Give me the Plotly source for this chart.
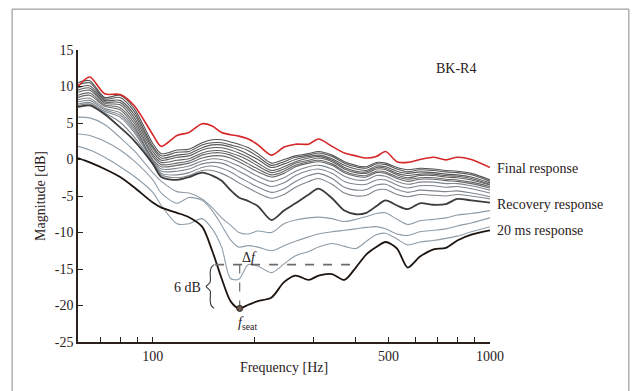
import math
import plotly.graph_objects as go

# Frequency grid (Hz)
freq = [60, 65, 72, 80, 88, 100, 106, 118, 128, 140, 150, 160, 170, 180, 192, 205, 225, 245,
        265, 290, 310, 340, 370, 400, 430, 460, 490, 530, 570, 620, 680, 740, 800, 880, 1000]

final_resp = [10.0, 11.3, 9.0, 8.9, 7.4, 3.4, 1.8, 3.3, 3.7, 4.9, 4.6, 3.7, 3.4, 3.2, 2.8, 2.0, 0.6, 1.7,
              2.1, 2.1, 2.8, 1.8, 0.9, 0.5, 0.2, 0.4, 1.1, -0.3, -0.4, 0.0, 0.3, -0.05, 0.3, 0.0, -1.1]

g1 = [10.5, 10.8, 8.5, 8.8, 7.0, 2.2, 0.8, 1.3, 1.4, 2.3, 2.7, 2.7, 2.4, 2.1, 1.6, 0.8, -0.5, 0.0,
      0.5, 0.8, 1.1, 0.6, -0.3, -0.8, -1.0, -0.4, -0.5, -1.1, -1.4, -1.2, -1.3, -1.5, -1.6, -1.9, -2.8]
g2 = [10.2, 10.5, 8.3, 8.5, 6.6, 1.8, 0.5, 1.0, 1.1, 2.0, 2.3, 2.3, 2.0, 1.7, 1.2, 0.4, -0.8, -0.3,
      0.3, 0.6, 0.9, 0.4, -0.5, -1.0, -1.2, -0.6, -0.7, -1.3, -1.7, -1.4, -1.5, -1.7, -1.8, -2.1, -3.0]
g3 = [9.8, 10.1, 8.1, 8.1, 6.2, 1.5, 0.2, 0.6, 0.8, 1.6, 2.0, 2.0, 1.7, 1.3, 0.7, 0.0, -1.1, -0.6,
      0.0, 0.4, 0.6, 0.1, -0.8, -1.3, -1.5, -0.9, -1.0, -1.6, -1.9, -1.7, -1.8, -2.0, -2.1, -2.4, -3.2]
g4 = [9.5, 9.8, 7.9, 7.8, 5.8, 1.1, -0.1, 0.3, 0.5, 1.3, 1.6, 1.6, 1.3, 0.9, 0.3, -0.5, -1.5, -1.0,
      -0.3, 0.2, 0.4, -0.1, -1.1, -1.6, -1.7, -1.1, -1.2, -1.9, -2.2, -2.0, -2.0, -2.2, -2.3, -2.6, -3.4]
g5 = [9.2, 9.5, 7.7, 7.5, 5.4, 0.7, -0.4, -0.1, 0.1, 0.9, 1.2, 1.2, 0.9, 0.5, -0.1, -0.9, -1.8, -1.3,
      -0.5, -0.1, 0.2, -0.3, -1.3, -1.8, -1.9, -1.3, -1.4, -2.1, -2.5, -2.2, -2.2, -2.4, -2.5, -2.8, -3.5]
g6 = [8.8, 9.1, 7.5, 7.1, 5.0, 0.4, -0.7, -0.5, -0.2, 0.6, 0.9, 0.9, 0.6, 0.1, -0.6, -1.3, -2.1, -1.6,
      -0.8, -0.3, -0.1, -0.6, -1.6, -2.1, -2.2, -1.6, -1.7, -2.4, -2.7, -2.5, -2.5, -2.7, -2.8, -3.1, -3.7]
g7 = [8.5, 8.8, 7.3, 6.8, 4.6, 0.0, -1.0, -0.8, -0.5, 0.2, 0.5, 0.5, 0.2, -0.3, -1.0, -1.7, -2.4, -1.9,
      -1.0, -0.5, -0.3, -0.8, -1.8, -2.3, -2.4, -1.8, -1.9, -2.6, -3.0, -2.7, -2.7, -2.9, -3.0, -3.3, -3.9]

m1 = [8.2, 8.4, 7.0, 6.4, 4.3, -0.1, -1.3, -1.2, -0.9, -0.2, 0.1, 0.0, -0.4, -0.9, -1.6, -2.3, -3.0, -2.5,
      -1.6, -1.0, -0.8, -1.3, -2.3, -2.8, -2.8, -2.2, -2.3, -3.0, -3.4, -3.1, -3.1, -3.3, -3.3, -3.6, -4.2]
m2 = [7.9, 8.1, 6.8, 6.1, 4.0, -0.2, -1.6, -1.6, -1.3, -0.6, -0.4, -0.5, -1.0, -1.6, -2.3, -3.0, -3.7, -3.2,
      -2.2, -1.5, -1.3, -1.9, -3.0, -3.4, -3.4, -2.8, -2.8, -3.5, -3.9, -3.6, -3.6, -3.8, -3.7, -4.0, -4.6]
m3 = [7.6, 7.8, 6.6, 5.8, 3.7, -0.3, -1.9, -2.1, -1.8, -1.1, -0.9, -1.2, -1.7, -2.4, -3.1, -3.8, -4.5, -4.0,
      -3.0, -2.2, -1.9, -2.6, -3.8, -4.2, -4.1, -3.5, -3.4, -4.1, -4.5, -4.2, -4.3, -4.4, -4.3, -4.6, -5.1]
m4 = [7.4, 7.6, 6.4, 5.1, 3.1, -0.4, -2.1, -2.5, -2.2, -1.5, -1.5, -1.9, -2.5, -3.2, -3.9, -4.6, -5.3, -4.8,
      -3.8, -3.0, -2.6, -3.4, -4.6, -5.0, -4.9, -4.2, -4.1, -4.8, -5.1, -4.8, -4.9, -5.0, -4.8, -5.0, -5.4]

recovery_resp = [7.2, 7.4, 6.2, 4.4, 2.6, -0.6, -2.4, -2.8, -2.4, -1.8, -2.2, -2.9, -4.2, -5.2, -5.7, -6.4, -8.3, -7.0,
                 -6.0, -4.8, -4.0, -5.3, -7.0, -7.5, -7.3, -6.4, -5.6, -6.3, -6.8, -6.0, -6.2, -6.1, -5.4, -5.6, -5.9]

l1 = [5.8, 5.7, 4.8, 3.0, 1.2, -1.8, -3.0, -4.4, -4.6, -5.4, -6.6, -8.0, -9.0, -10.0, -10.2, -9.8, -10.0, -8.8,
      -8.3, -8.0, -7.9, -8.1, -8.5, -8.2, -7.8, -7.4, -7.3, -8.2, -8.9, -8.4, -8.2, -8.0, -7.6, -7.4, -7.0]
l2 = [3.5, 3.3, 2.5, 1.3, -0.2, -2.8, -4.6, -6.0, -5.2, -5.6, -7.0, -9.0, -11.0, -12.0, -11.8, -12.0, -12.5, -11.8,
      -11.2, -10.6, -10.2, -9.9, -9.7, -9.5, -9.3, -9.2, -9.5, -10.2, -10.4, -9.9, -9.7, -9.5, -9.1, -8.7, -8.0]
l3 = [1.8, 1.3, 0.3, -1.0, -2.3, -4.5, -6.3, -8.8, -8.8, -8.1, -9.5, -12.0, -16.3, -16.4, -14.4, -14.6, -15.5, -14.3,
      -13.2, -12.6, -12.0, -11.5, -11.9, -12.2, -11.2, -10.3, -10.1, -10.9, -11.7, -11.3, -11.1, -10.8, -10.5, -9.9, -9.2]

resp_20ms = [0.2, -0.4, -1.3, -2.4, -3.8, -5.9, -6.6, -7.3, -7.9, -9.2, -12.5, -16.3, -19.4, -20.4, -19.9, -19.4, -18.9, -16.8,
             -15.9, -16.5, -15.9, -15.7, -16.5, -14.8, -13.0, -12.0, -11.3, -12.2, -14.8, -13.3, -12.3, -12.1, -11.1, -10.3, -9.7]

# Annotation values
F_SEAT = 181
MAG_MIN = -20.4
DROP_DB = 6
F_LO, F_HI = 153, 398
F_BRACE = 148

x_major = [100, 500, 1000]
x_minor = [70, 80, 90, 100, 200, 300, 400, 500, 600, 700, 800, 900, 1000]
y_tickvals = [15, 10, 5, 0, -5, -10, -15, -20, -25]
y_ticktext = ["15", "10", "5", "0", "-5", "-10", "-15", "-20", "-25"]

FONT = "Liberation Serif, Times New Roman, serif"
TXT = "#2a211c"

fig = go.Figure()

def add(y, color, width):
    fig.add_trace(go.Scatter(x=freq, y=y, mode="lines",
                             line=dict(color=color, width=width, shape="spline", smoothing=0.8),
                             hoverinfo="skip", showlegend=False))

for y in (l1, l2, l3):
    add(y, "#8e9ca7", 1.1)
for y in (m1, m2, m3, m4):
    add(y, "#7e868d", 1.1)
for y, c in ((g7, "#686868"), (g6, "#646464"), (g5, "#606060"), (g4, "#5c5c5c"),
             (g3, "#585858"), (g2, "#555555"), (g1, "#525252")):
    add(y, c, 1.1)
add(recovery_resp, "#3c3c3c", 1.8)
add(final_resp, "#d62728", 1.6)
add(resp_20ms, "#1c140f", 1.8)

# f_seat construction lines
top = MAG_MIN + DROP_DB
fig.add_trace(go.Scatter(x=[F_LO, F_HI], y=[top, top], mode="lines",
                         line=dict(color="#6b6b6b", width=1.6, dash="dash"), hoverinfo="skip", showlegend=False))
fig.add_trace(go.Scatter(x=[F_SEAT, F_SEAT], y=[top, MAG_MIN], mode="lines",
                         line=dict(color="#6b6b6b", width=1.2, dash="dash"), hoverinfo="skip", showlegend=False))
fig.add_trace(go.Scatter(x=[F_SEAT], y=[MAG_MIN], mode="markers",
                         marker=dict(size=6, color="#6b5a50", line=dict(color="#2a211c", width=1)),
                         hoverinfo="skip", showlegend=False))

# curly brace spanning the 6 dB drop (geometry in pixel offsets, 337 px per decade)
PX = 1.0 / 337.0
mid = (top + MAG_MIN) / 2
b_dx = [4, 1.2, 0, 0, -4, 0, 0, 1.2, 4]
b_y = [top, top - 0.35, top - 1.0, mid + 0.6, mid, mid - 0.6, MAG_MIN + 1.0, MAG_MIN + 0.35, MAG_MIN]
fig.add_trace(go.Scatter(x=[10 ** (math.log10(F_BRACE) + d * PX) for d in b_dx], y=b_y, mode="lines",
                         line=dict(color="#3a322d", width=1.1, shape="spline", smoothing=0.6),
                         hoverinfo="skip", showlegend=False))

lg = math.log10
ann = [
    dict(x=0.917, xref="paper", y=12.5, text="BK-R4"),
    dict(x=1.012, xref="paper", y=-1.2, text="Final response", xanchor="left"),
    dict(x=1.012, xref="paper", y=-6.2, text="Recovery response", xanchor="left"),
    dict(x=1.012, xref="paper", y=-9.7, text="20 ms response", xanchor="left"),
    dict(x=lg(194), y=-13.4, text="Δ<i>f</i>"),
    dict(x=lg(127), y=-17.5, text="6 dB"),
    dict(x=lg(191), y=-22.4, text="<i>f</i><sub>seat</sub>"),
]
annotations = []
for a in ann:
    a.setdefault("xref", "x")
    a.setdefault("yref", "y")
    a.setdefault("xanchor", "center")
    a.update(yanchor="middle", showarrow=False, font=dict(family=FONT, size=14, color=TXT))
    annotations.append(a)

fig.update_layout(
    width=633, height=391,
    margin=dict(l=78, r=143, t=50, b=49),
    paper_bgcolor="white", plot_bgcolor="white",
    font=dict(family=FONT, size=14, color=TXT),
    annotations=annotations,
    shapes=[dict(type="rect", xref="paper", yref="paper", x0=-0.160, x1=1.337, y0=-0.22, y1=1.140,
                 line=dict(color="#8a8a8a", width=1), fillcolor="rgba(0,0,0,0)")],
)
fig.update_xaxes(type="log", range=[lg(60), lg(1000)], tickmode="array", tickvals=x_major,
                 ticktext=[str(v) for v in x_major],
                 ticks="inside", ticklen=5, tickwidth=1, tickcolor=TXT,
                 minor=dict(tickmode="array", tickvals=x_minor, ticks="inside", ticklen=5, tickwidth=1,
                            tickcolor=TXT, showgrid=False),
                 showline=True, linecolor=TXT, linewidth=1.5, showgrid=False, zeroline=False,
                 tickfont=dict(family=FONT, size=14, color=TXT),
                 title=dict(text="Frequency [Hz]", font=dict(family=FONT, size=14, color=TXT), standoff=0))
fig.update_yaxes(range=[-25, 15], tickvals=y_tickvals, ticktext=y_ticktext,
                 ticks="inside", ticklen=5, tickwidth=1, tickcolor=TXT,
                 showline=True, linecolor=TXT, linewidth=1.5, showgrid=False, zeroline=False,
                 tickfont=dict(family=FONT, size=14, color=TXT),
                 title=dict(text="Magnitude [dB]", font=dict(family=FONT, size=14, color=TXT), standoff=6))

fig.write_html("out.html")
